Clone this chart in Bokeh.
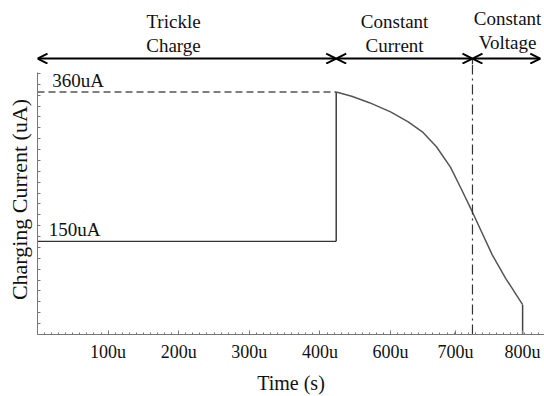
from bokeh.plotting import figure
from bokeh.layouts import column
from bokeh.models import Arrow, OpenHead, Label, FixedTicker, Range1d
from bokeh.embed import file_html
from bokeh.resources import INLINE
import numpy as np

# ---- data (time in axis units "u", current in uA) ----
trickle_x = [0, 423]
trickle_y = [150, 150]
ref360_x = [0, 423]
ref360_y = [360, 360]
step_x = [423, 423]
step_y = [150, 360]
cc_x = [423, 445, 470, 500, 525, 545, 565, 585, 600, 616, 644, 663, 687]
cc_y = [360, 354, 345, 332, 318, 304, 283, 254, 224, 191, 131, 98, 61]
drop_x = [687, 687]
drop_y = [61, 19]
phase_edges = [0, 423, 616, 712]
phase_names = [("Trickle", "Charge"), ("Constant", "Current"), ("Constant", "Voltage")]
level_names = ["360uA", "150uA"]
level_values = [360, 150]
tick_pos = [100, 200, 300, 400, 500, 592, 687]
tick_labels = ["100u", "200u", "300u", "400u", "600u", "700u", "800u"]

FONT = "Liberation Serif"
TXT = "#111111"
AX = "#777777"
Y0, Y_AXIS_TOP, Y_SPLIT, Y_TOP = 19, 387.6, 398.7, 487.7
x_range = Range1d(0, 718)

# ---------- top strip: charging phases ----------
top = figure(width=544, height=64, output_backend="svg", toolbar_location=None,
             x_range=x_range, y_range=Range1d(Y_SPLIT, Y_TOP),
             x_axis_location=None, y_axis_location=None,
             min_border_left=37, min_border_right=0, min_border_top=0, min_border_bottom=0)
top.outline_line_color = None
top.grid.visible = False

arrow_y = 407
for a, b in zip(phase_edges[:-1], phase_edges[1:]):
    top.add_layout(Arrow(x_start=a, y_start=arrow_y, x_end=b, y_end=arrow_y,
                         line_color="black", line_width=2,
                         start=OpenHead(size=10, line_width=2, line_color="black"),
                         end=OpenHead(size=10, line_width=2, line_color="black")))
top.line([phase_edges[2], phase_edges[2]], [Y_SPLIT, arrow_y], line_color="#333333",
         line_width=1.2, line_dash="10 4 2 4")

name_x = [192.6, 505.7, 665.7]
name_y = [(458.5, 425.1), (458.5, 425.1), (462.7, 429.3)]
for (l1, l2), x, (y1, y2) in zip(phase_names, name_x, name_y):
    for t, y in ((l1, y1), (l2, y2)):
        top.add_layout(Label(x=x, y=y, text=t, text_align="center", text_baseline="middle",
                             text_font=FONT, text_font_size="19px", text_color=TXT))

# ---------- main plot ----------
p = figure(width=544, height=332, output_backend="svg", toolbar_location=None,
           x_range=x_range, y_range=Range1d(Y0, Y_SPLIT),
           min_border_left=37, min_border_right=0, min_border_top=0, min_border_bottom=59)
p.outline_line_color = None
p.xgrid.visible = False
p.ygrid.visible = False

xa = p.xaxis[0]
xa.ticker = FixedTicker(ticks=tick_pos, minor_ticks=list(np.arange(10, 718, 10)))
xa.major_label_overrides = {v: s for v, s in zip(tick_pos, tick_labels)}
xa.major_label_text_font = FONT
xa.major_label_text_font_size = "18px"
xa.major_label_text_color = TXT
xa.major_label_standoff = 7
xa.axis_line_color = AX
xa.major_tick_line_color = AX
xa.minor_tick_line_color = AX
xa.major_tick_in = 4
xa.major_tick_out = 0
xa.minor_tick_in = 2
xa.minor_tick_out = 0
xa.axis_label = "Time (s)"
xa.axis_label_text_font = FONT
xa.axis_label_text_font_style = "normal"
xa.axis_label_text_font_size = "20px"
xa.axis_label_text_color = TXT
xa.axis_label_standoff = 7

ya = p.yaxis[0]
ya.bounds = (Y0, Y_AXIS_TOP)
ya.ticker = FixedTicker(ticks=[], minor_ticks=list(np.arange(Y0 + 15.3, Y_AXIS_TOP, 15.3)))
ya.axis_line_color = AX
ya.minor_tick_line_color = AX
ya.minor_tick_in = 3
ya.minor_tick_out = 0
ya.axis_label = "Charging Current (uA)"
ya.axis_label_text_font = FONT
ya.axis_label_text_font_style = "normal"
ya.axis_label_text_font_size = "22px"
ya.axis_label_text_color = TXT
ya.axis_label_standoff = 6

p.line(ref360_x, ref360_y, line_color="#555555", line_width=1.5, line_dash="7 4")
p.line(trickle_x, trickle_y, line_color="#333333", line_width=1.3)
p.line(step_x, step_y, line_color="#222222", line_width=1.3)
p.line(cc_x, cc_y, line_color="#555555", line_width=1.5)
p.line(drop_x, drop_y, line_color="#444444", line_width=1.5)
p.line([phase_edges[2], phase_edges[2]], [Y0, Y_SPLIT], line_color="#333333",
       line_width=1.2, line_dash="10 4 2 4")

for t, v, x in zip(level_names, level_values, [21, 16]):
    p.add_layout(Label(x=x, y=v + 1.5, text=t, text_align="left", text_baseline="bottom",
                       text_font=FONT, text_font_size="19px", text_color=TXT))

layout = column(top, p, spacing=0)
open("out.html", "w").write(file_html(layout, INLINE))
